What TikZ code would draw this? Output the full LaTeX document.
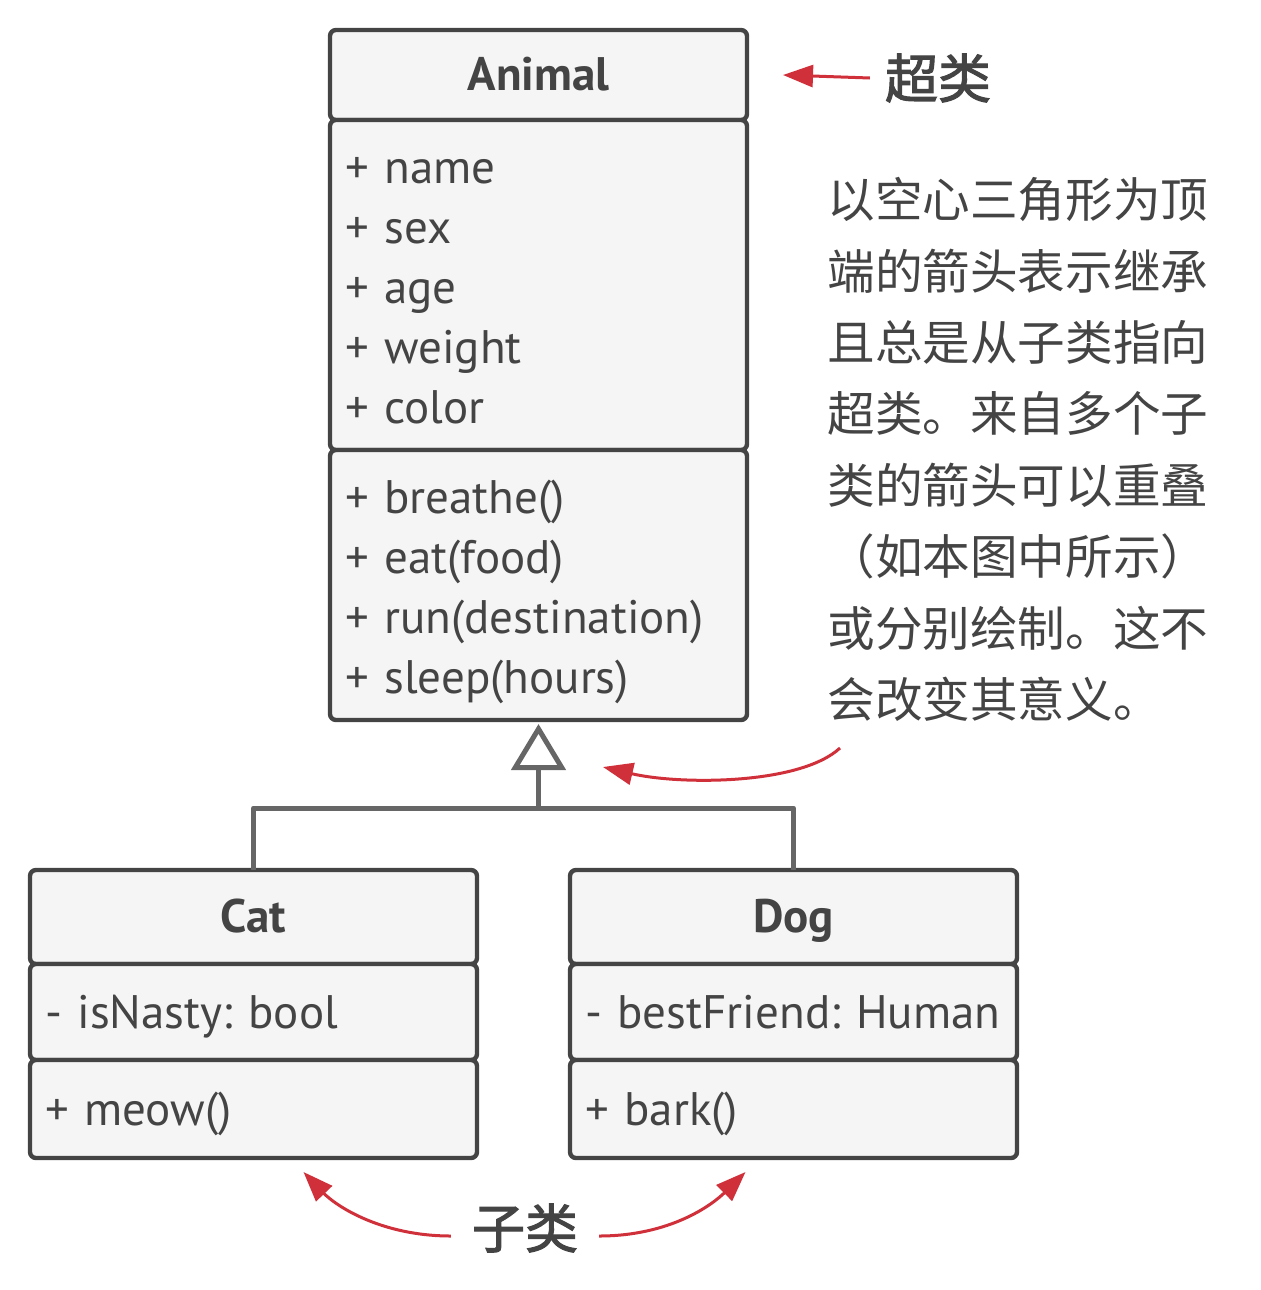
\documentclass[tikz,border=0pt]{standalone}
\usepackage{fontspec}
\setmainfont{PT Sans}
\newfontfamily\cjk{Noto Sans CJK SC}
\newfontfamily\cjkmed[FakeBold=2]{Noto Sans CJK SC}
\usetikzlibrary{arrows.meta,positioning}
\definecolor{inkgray}{HTML}{444444}
\definecolor{linkgray}{HTML}{666666}
\definecolor{boxfill}{HTML}{F5F5F5}
\definecolor{notered}{HTML}{D0303A}
\frenchspacing

\begin{document}
\begin{tikzpicture}[
  x=0.5pt, y=-0.5pt, >=Latex,
  font=\fontsize{23.5}{30}\selectfont, text=inkgray,
  sect/.style={draw=inkgray, fill=boxfill, line width=2.2pt, rounded corners=3pt,
    outer sep=0pt, inner xsep=7.5pt, inner ysep=0pt, text width=#1, align=left},
  line/.style={sect=#1, text height=20pt, text depth=4pt},
  head/.style={sect=#1, text height=17pt, text depth=2pt, align=center,
    font=\fontsize{23.5}{26}\selectfont\bfseries},
  inherit/.style={draw=linkgray, line width=2.5pt, line join=round},
  remark/.style={draw=notered, line width=1.5pt, -{Triangle[length=15pt,width=11pt]}},
  cjklabel/.style={font=\cjkmed\fontsize{26.5}{30}\selectfont}
]
\useasboundingbox (0,0) rectangle (1260,1290);

% superclass
\node[head=193.5pt, minimum height=45pt, anchor=north west] (animal-h) at (330,30) {Animal};
\node[sect=193.5pt, minimum height=165pt, below=0pt of animal-h] (animal-a)
  {\rule{0pt}{1em}+ name\\+ sex\\+ age\\+ weight\\+ color\rule[-0.2em]{0pt}{0pt}};
\node[sect=193.5pt, minimum height=135pt, below=0pt of animal-a] (animal-m)
  {\rule{0pt}{1em}+ breathe()\\+ eat(food)\\+ run(destination)\\+ sleep(hours)\rule[-0.2em]{0pt}{0pt}};

% subclasses
\node[head=208.5pt, minimum height=47pt, anchor=north west] (cat-h) at (30,870) {Cat};
\node[line=208.5pt, minimum height=48pt, below=0pt of cat-h] (cat-a) {- isNasty: bool};
\node[line=208.5pt, minimum height=49pt, below=0pt of cat-a] (cat-m) {+ meow()};

\node[head=208.5pt, minimum height=47pt, anchor=north west] (dog-h) at (570,870) {Dog};
\node[line=208.5pt, minimum height=48pt, below=0pt of dog-h] (dog-a) {- bestFriend: Human};
\node[line=208.5pt, minimum height=49pt, below=0pt of dog-a] (dog-m) {+ bark()};

% inheritance
\coordinate[below=44pt of animal-m.south] (fork);
\draw[inherit] (cat-h.north) |- (fork) -| (dog-h.north);
\draw[inherit, -{Triangle[open, length=23pt, width=27pt]}] (fork) -- ([yshift=-2pt]animal-m.south);

% notes
\node[cjklabel] (super) at (938,78) {超类};
\draw[remark] ([xshift=-4pt]super.west) -- ([xshift=18pt]animal-h.east);

\node[anchor=north west, inner sep=0pt, align=left, font=\cjk\fontsize{23.8}{35.7}\selectfont] (note) at (827,177)
  {以空心三角形为顶\\端的箭头表示继承\\且总是从子类指向\\超类。来自多个子\\类的箭头可以重叠\\（如本图中所示）\\或分别绘制。这不\\会改变其意义。};
\coordinate (noteTail) at (840,748);
\coordinate (triHint) at (603,767);
\draw[remark] (noteTail) .. controls (800,785) and (680,785) .. (triHint);

\node[cjklabel] (sub) at (525,1228) {子类};
\draw[remark] ([shift={(-7pt,-4pt)}]sub.west) .. controls (380,1236) and (335,1205) .. ([shift={(25pt,-7pt)}]cat-m.south);
\draw[remark] ([shift={(7pt,-4pt)}]sub.east) .. controls (670,1236) and (712,1205) .. ([shift={(-24pt,-7pt)}]dog-m.south);
\end{tikzpicture}
\end{document}
